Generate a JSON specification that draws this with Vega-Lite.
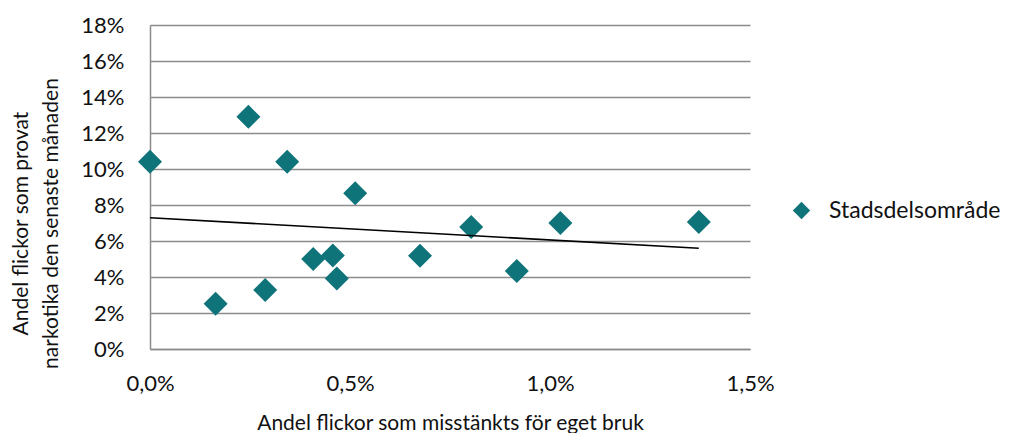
{
  "$schema": "https://vega.github.io/schema/vega-lite/v6.json",
  "width": 600,
  "height": 324,
  "autosize": {"type": "none"},
  "padding": {"left": 150, "top": 25, "right": 270, "bottom": 84},
  "background": "white",
  "config": {
    "locale": {"number": {"decimal": ",", "thousands": " ", "grouping": [3], "currency": ["", " kr"]}},
    "view": {"stroke": null},
    "font": "Lato"
  },
  "data": {
    "values": [
      {"x": 0.0000, "y": 0.104, "serie": "Stadsdelsområde"},
      {"x": 0.00164, "y": 0.0252, "serie": "Stadsdelsområde"},
      {"x": 0.00246, "y": 0.129, "serie": "Stadsdelsområde"},
      {"x": 0.00288, "y": 0.0328, "serie": "Stadsdelsområde"},
      {"x": 0.00343, "y": 0.104, "serie": "Stadsdelsområde"},
      {"x": 0.00408, "y": 0.050, "serie": "Stadsdelsområde"},
      {"x": 0.00457, "y": 0.052, "serie": "Stadsdelsområde"},
      {"x": 0.00467, "y": 0.0392, "serie": "Stadsdelsområde"},
      {"x": 0.00513, "y": 0.0865, "serie": "Stadsdelsområde"},
      {"x": 0.00675, "y": 0.0518, "serie": "Stadsdelsområde"},
      {"x": 0.00803, "y": 0.0678, "serie": "Stadsdelsområde"},
      {"x": 0.00917, "y": 0.0433, "serie": "Stadsdelsområde"},
      {"x": 0.01026, "y": 0.070, "serie": "Stadsdelsområde"},
      {"x": 0.01372, "y": 0.0706, "serie": "Stadsdelsområde"}
    ]
  },
  "encoding": {
    "x": {
      "field": "x", "type": "quantitative",
      "scale": {"domain": [0, 0.015], "nice": false, "zero": true},
      "axis": {
        "title": "Andel flickor som misstänkts för eget bruk",
        "format": ".1%", "values": [0, 0.005, 0.01, 0.015],
        "grid": false, "labelPadding": 24,
        "labelFont": "Lato", "titleFont": "Lato",
        "labelFontSize": 22, "titleFontSize": 21,
        "labelColor": "#111111", "titleColor": "#111111",
        "titleFontWeight": "normal",
        "ticks": false, "tickSize": 0, "labelOverlap": false,
        "domainColor": "#8c8c8c", "domainWidth": 1.5,
        "titleBaseline": "alphabetic", "titleY": 80,
        "labelFlush": false
      }
    },
    "y": {
      "field": "y", "type": "quantitative",
      "scale": {"domain": [0, 0.18], "nice": false},
      "axis": {
        "title": ["Andel flickor som provat", "narkotika  den senaste månaden"],
        "format": ".0%", "values": [0, 0.02, 0.04, 0.06, 0.08, 0.1, 0.12, 0.14, 0.16, 0.18],
        "tickCount": 10,
        "grid": true, "labelPadding": 26,
        "labelFont": "Lato", "titleFont": "Lato",
        "labelFontSize": 22, "titleFontSize": 21,
        "labelColor": "#111111", "titleColor": "#111111",
        "titleFontWeight": "normal",
        "ticks": false, "tickSize": 0, "labelOverlap": false,
        "domainColor": "#8c8c8c", "domainWidth": 1.5,
        "gridColor": "#8c8c8c", "gridWidth": 1.5,
        "titleAngle": -90, "titleBaseline": "top", "titleX": -140, "titleY": 198,
        "titleAlign": "center", "titleLineHeight": 30,
        "labelFlush": false
      }
    }
  },
  "layer": [
    {
      "mark": {"type": "point", "shape": "diamond", "filled": true, "size": 576, "opacity": 1},
      "encoding": {
        "color": {
          "field": "serie", "type": "nominal",
          "scale": {"range": ["#0f7479"]},
          "legend": {
            "title": null, "orient": "none", "legendX": 640, "legendY": 174,
            "symbolType": "diamond", "symbolSize": 300,
            "labelFont": "Lato", "labelFontSize": 23, "labelColor": "#111111",
            "labelLimit": 400,
            "symbolOpacity": 1, "labelOffset": 16
          }
        }
      }
    },
    {
      "transform": [{"regression": "y", "on": "x"}],
      "mark": {"type": "line", "color": "black", "strokeWidth": 1.6}
    }
  ]
}
